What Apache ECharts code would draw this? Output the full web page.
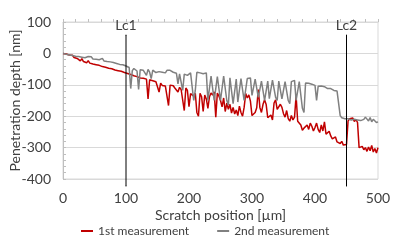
<!DOCTYPE html>
<html>
<head>
<meta charset="utf-8">
<script src="https://cdn.jsdelivr.net/npm/echarts@6/dist/echarts.min.js"></script>
<style>
html, body { margin: 0; padding: 0; background: #fff; }
#main { width: 399px; height: 249px; }
</style>
</head>
<body>
<div id="main"></div>
<script>
// sampling step along the scratch [µm]
var xStep = 2.5;

// 1st measurement [nm], one value every 2.5 µm, 0..500
var firstDepth = [
	0, -4, -2, -7, -5, -11, -6, -13, -9, -16,
	-14, -24, -17, -26, -21, -30, -23, -31, -25, -34,
	-28, -36, -31, -38, -33, -42, -36, -44, -39, -47,
	-41, -49, -46, -53, -48, -55, -50, -57, -54, -61,
	-58, -64, -60, -67, -63, -71, -66, -74, -70, -78,
	-74, -79, -76, -82, -145, -84, -79, -87, -83, -90,
	-86, -123, -95, -102, -96, -104, -99, -166, -101, -107,
	-103, -110, -105, -123, -108, -115, -111, -182, -110, -118,
	-170, -128, -124, -136, -127, -188, -200, -127, -138, -185,
	-133, -145, -175, -138, -126, -133, -122, -203, -126, -136,
	-150, -170, -142, -185, -158, -178, -162, -190, -172, -193,
	-180, -198, -168, -188, -200, -172, -128, -142, -132, -152,
	-198, -192, -188, -173, -115, -172, -188, -162, -148, -163,
	-205, -210, -196, -212, -158, -148, -178, -183, -162, -172,
	-192, -203, -182, -208, -216, -198, -212, -203, -135, -216,
	-220, -228, -245, -238, -232, -228, -242, -222, -232, -247,
	-236, -222, -242, -252, -228, -247, -218, -257, -262, -248,
	-263, -272, -276, -266, -282, -276, -287, -280, -292, -286,
	-290, -215, -208, -214, -206, -217, -210, -220, -300, -306,
	-296, -307, -300, -312, -298, -310, -293, -314, -303, -317,
	-300
];

// 2nd measurement [nm]
var secondDepth = [
	0, 3, -3, 1, -5, -2, -7, -3, -9, -5,
	-10, -6, -12, -8, -14, -11, -10, -16, -11, -18,
	-13, -19, -15, -20, -22, -16, -24, -18, -26, -20,
	-27, -22, -29, -25, -32, -27, -35, -30, -36, -40,
	-40, -44, -45, -112, -55, -48, -54, -56, -115, -52,
	-50, -54, -53, -70, -51, -60, -80, -53, -58, -61,
	-56, -58, -62, -60, -56, -62, -54, -50, -54, -57,
	-60, -56, -63, -97, -65, -61, -118, -66, -69, -70,
	-65, -62, -68, -150, -118, -60, -58, -62, -60, -65,
	-60, -62, -150, -145, -72, -75, -150, -155, -74, -76,
	-150, -148, -72, -74, -150, -165, -78, -80, -160, -155,
	-82, -155, -160, -80, -78, -150, -148, -80, -76, -78,
	-134, -140, -82, -85, -140, -145, -88, -84, -150, -148,
	-88, -144, -150, -85, -88, -140, -150, -88, -92, -145,
	-150, -90, -88, -150, -160, -90, -88, -86, -150, -155,
	-90, -92, -175, -188, -94, -96, -95, -100, -98, -102,
	-102, -150, -105, -108, -104, -110, -106, -108, -112, -110,
	-112, -115, -118, -114, -120, -125, -198, -205, -210, -208,
	-212, -208, -205, -212, -206, -210, -204, -212, -208, -214,
	-208, -210, -203, -207, -215, -204, -218, -210, -216, -220,
	-218
];

var lcNames = ['Lc1', 'Lc2'];
var lcPositions = [100, 450];
var seriesNames = ['1st measurement', '2nd measurement'];

function toPairs(vals) {
	return vals.map(function(v, i) { return [i * xStep, v]; });
}

var font = 'Lato, "Noto Sans", sans-serif';
var textColor = '#404040';

var chart = echarts.init(document.getElementById('main'));

var series = [{
	name: seriesNames[0],
	type: 'line',
	xAxisIndex: 0,
	yAxisIndex: 0,
	data: toPairs(firstDepth),
	showSymbol: false,
	symbol: 'none',
	lineStyle: { color: '#c00000', width: 1.5 },
	itemStyle: { color: '#c00000' },
	animation: false
}, {
	name: seriesNames[1],
	type: 'line',
	xAxisIndex: 0,
	yAxisIndex: 0,
	data: toPairs(secondDepth),
	showSymbol: false,
	symbol: 'none',
	lineStyle: { color: '#808080', width: 1.5 },
	itemStyle: { color: '#808080' },
	animation: false
}];

// Lc markers drawn on an overlay grid that reaches a bit past the plot
lcPositions.forEach(function(pos, k) {
	series.push({
		name: lcNames[k],
		type: 'line',
		xAxisIndex: 2,
		yAxisIndex: 1,
		data: [[pos, 0], [pos, 1]],
		symbol: 'circle',
		symbolSize: 1,
		itemStyle: { color: '#000' },
		lineStyle: { color: '#000', width: 1 },
		label: {
			show: true,
			position: 'top',
			distance: 2,
			color: textColor,
			fontFamily: font,
			fontSize: 14,
			formatter: function(p) { return p.dataIndex === 1 ? lcNames[k] : ''; }
		},
		silent: true,
		animation: false
	});
});

chart.setOption({
	backgroundColor: '#fff',
	textStyle: { fontFamily: font },
	grid: [{
		left: 63,
		right: 21,
		top: 22,
		bottom: 70,
		outerBoundsMode: 'none',
		show: true,
		borderColor: '#d9d9d9',
		borderWidth: 1
	}, {
		left: 63,
		right: 21,
		top: 35,
		bottom: 63,
		outerBoundsMode: 'none'
	}],
	legend: {
		data: seriesNames,
		left: 76,
		top: 220,
		icon: 'rect',
		itemWidth: 12,
		itemHeight: 2,
		itemGap: 28,
		textStyle: { color: textColor, fontSize: 12, fontFamily: font }
	},
	xAxis: [{
		type: 'value',
		gridIndex: 0,
		position: 'bottom',
		min: 0,
		max: 500,
		interval: 100,
		name: 'Scratch position [µm]',
		nameLocation: 'middle',
		nameGap: 29,
		nameMoveOverlap: false,
		nameTextStyle: { color: textColor, fontSize: 14, fontFamily: font },
		axisLine: { show: false },
		axisTick: { show: false },
		splitLine: { show: false },
		axisLabel: { color: textColor, fontSize: 14, margin: 12, fontFamily: font }
	}, {
		type: 'value',
		gridIndex: 0,
		position: 'top',
		min: 0,
		max: 500,
		interval: 100,
		axisLine: { show: true, onZero: true, lineStyle: { color: '#d9d9d9' } },
		axisTick: { show: true, inside: false, length: 3, lineStyle: { color: '#bfbfbf' } },
		minorTick: { show: true, splitNumber: 5, length: 3, lineStyle: { color: '#bfbfbf' } },
		axisLabel: { show: false },
		splitLine: { show: false }
	}, {
		type: 'value',
		gridIndex: 1,
		min: 0,
		max: 500,
		show: false
	}],
	yAxis: [{
		type: 'value',
		gridIndex: 0,
		min: -400,
		max: 100,
		interval: 100,
		name: 'Penetration depth [nm]',
		nameLocation: 'middle',
		nameGap: 41,
		nameMoveOverlap: false,
		nameTextStyle: { color: textColor, fontSize: 14, fontFamily: font },
		axisLine: { show: true, lineStyle: { color: '#bfbfbf' } },
		axisTick: { show: true, inside: true, length: 3, lineStyle: { color: '#bfbfbf' } },
		minorTick: { show: true, splitNumber: 5, length: 3, lineStyle: { color: '#bfbfbf' } },
		splitLine: { show: true, lineStyle: { color: '#d9d9d9' } },
		axisLabel: { color: textColor, fontSize: 14, margin: 12, fontFamily: font }
	}, {
		type: 'value',
		gridIndex: 1,
		min: 0,
		max: 1,
		show: false
	}],
	series: series
});
</script>
</body>
</html>
